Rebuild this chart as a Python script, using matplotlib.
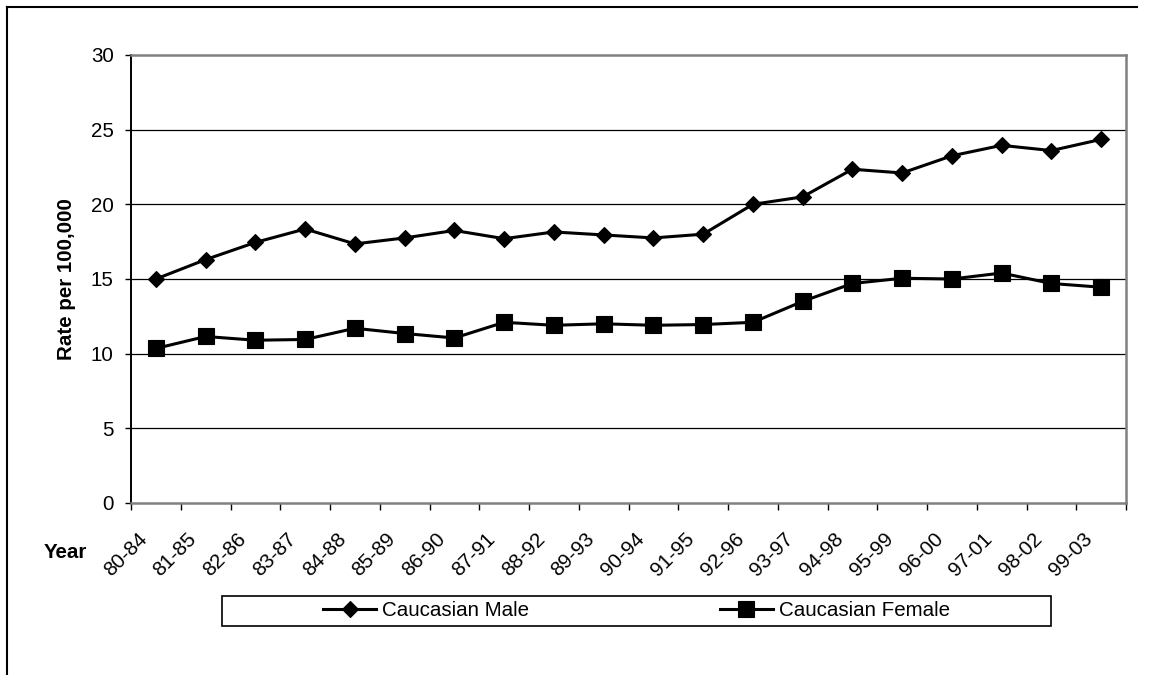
import matplotlib
matplotlib.use("Agg")
import matplotlib.pyplot as plt
from matplotlib.lines import Line2D
from matplotlib.patches import Rectangle
from matplotlib.transforms import ScaledTranslation
import numpy as np

periods = ["80-84", "81-85", "82-86", "83-87", "84-88", "85-89", "86-90", "87-91",
           "88-92", "89-93", "90-94", "91-95", "92-96", "93-97", "94-98", "95-99",
           "96-00", "97-01", "98-02", "99-03"]
male = [15.0, 16.3, 17.45, 18.35, 17.35, 17.75, 18.25, 17.7, 18.15, 17.95,
        17.75, 18.0, 20.0, 20.5, 22.35, 22.1, 23.25, 23.95, 23.6, 24.35]
female = [10.35, 11.15, 10.9, 10.95, 11.7, 11.35, 11.05, 12.1, 11.9, 12.0,
          11.9, 11.95, 12.1, 13.5, 14.7, 15.05, 15.0, 15.4, 14.7, 14.45]
yticks = [0, 5, 10, 15, 20, 25, 30]

W, H = 1154, 675
plt.rcParams["font.family"] = ["Liberation Sans", "DejaVu Sans"]
fs = 14.8

fig = plt.figure(figsize=(W / 100, H / 100), dpi=100)
fig.patch.set_facecolor("white")

ax = fig.add_axes([131 / W, 1 - 503 / H, (1126 - 131) / W, (503 - 55) / H])
x = np.arange(len(periods))

for v in yticks[1:-1]:
    ax.axhline(v, color="black", lw=0.9, zorder=1)

ax.plot(x, male, color="black", lw=2.2, marker="D", ms=8.0, mew=0.8,
        mfc="black", mec="black", zorder=3, label="Caucasian Male")
ax.plot(x, female, color="black", lw=2.2, marker="s", ms=11.0, mew=0.8,
        mfc="black", mec="black", zorder=3, label="Caucasian Female")

ax.set_xlim(-0.5, len(periods) - 0.5)
ax.set_ylim(0, 30)
ax.set_yticks(yticks)
ax.set_yticklabels([str(v) for v in yticks], fontsize=fs)
ax.tick_params(axis="y", length=4.5, width=1, pad=8, color="black")

ax.set_xticks(np.arange(len(periods) + 1) - 0.5)
ax.set_xticklabels([])
ax.tick_params(axis="x", which="major", length=5, width=1, color="black")
ax.set_xticks(x, minor=True)
ax.set_xticklabels(periods, minor=True, fontsize=fs, rotation=45,
                   ha="right", va="center", rotation_mode="anchor")
ax.tick_params(axis="x", which="minor", length=0, pad=0)
offset = ScaledTranslation(-0.12, -0.33, fig.dpi_scale_trans)
for lbl in ax.get_xticklabels(minor=True):
    lbl.set_transform(lbl.get_transform() + offset)

for side in ("top", "right", "bottom"):
    ax.spines[side].set_color("#808080")
    ax.spines[side].set_linewidth(1.8)
ax.spines["left"].set_color("black")
ax.spines["left"].set_linewidth(1.4)

fig.text(67 / W, 1 - 279 / H, "Rate per 100,000", rotation=90, ha="center",
         va="center", fontsize=fs, fontweight="bold")
fig.text(65 / W, 1 - 553 / H, "Year", ha="center", va="center",
         fontsize=fs, fontweight="bold")

# legend frame and entries
fig.patches.append(Rectangle((222 / W, 1 - 626 / H), (1051 - 222) / W, 30 / H,
                             transform=fig.transFigure, facecolor="white",
                             edgecolor="black", lw=1.2))
handles, labels = ax.get_legend_handles_labels()
leg = fig.legend(handles, labels, loc="center", bbox_to_anchor=(636.5 / W, 1 - 611 / H),
                 ncol=2, frameon=False, fontsize=fs, handlelength=2.55,
                 handletextpad=0.3, columnspacing=9.3, borderpad=0)

# outer border
fig.add_artist(Line2D([7 / W, 1137 / W], [1 - 7 / H, 1 - 7 / H],
                      transform=fig.transFigure, color="black", lw=1.5))
fig.add_artist(Line2D([7 / W, 7 / W], [1 - 7 / H, 0],
                      transform=fig.transFigure, color="black", lw=1.5))

fig.savefig("out.png", dpi=100, facecolor="white")
